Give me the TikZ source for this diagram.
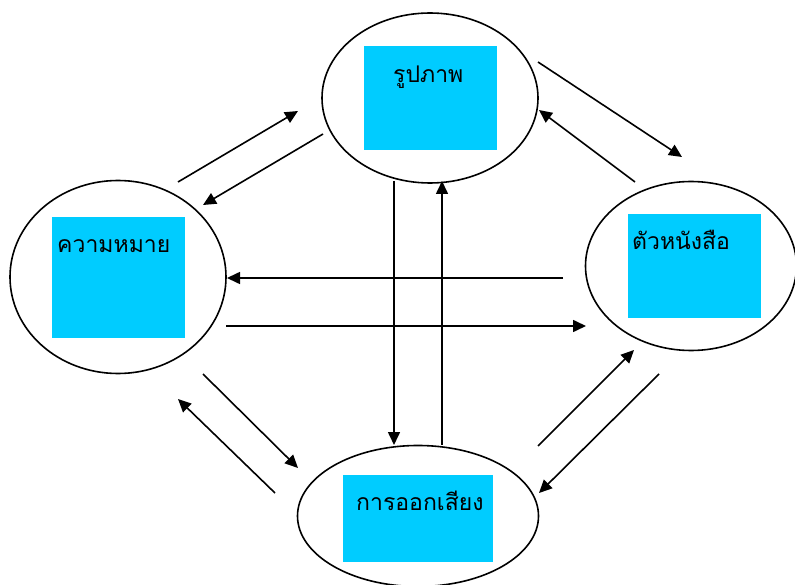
\documentclass[tikz,border=0pt]{standalone}
\usepackage{fontspec}
\usepackage{xcolor}
\usetikzlibrary{shapes.geometric,arrows.meta}
\newfontfamily\thaifont[Script=Thai]{Loma}
\definecolor{boxcyan}{RGB}{0,204,255}

\begin{document}
\begin{tikzpicture}[x=1pt,y=-1pt,
  bubble/.style={draw,line width=1.6pt,ellipse,inner sep=0pt},
  panel/.style={fill=boxcyan,inner sep=0pt},
  word/.style={anchor=base west,inner sep=0pt,font=\thaifont\fontsize{23}{27}\selectfont},
  link/.style={line width=1.6pt,-{Triangle[length=13pt,width=12pt]}}]
\useasboundingbox (0,0) rectangle (795,585);
% ellipses
\node[bubble,minimum width=216pt,minimum height=170pt] (pic) at (430,98) {};
\node[bubble,minimum width=216pt,minimum height=193pt] (mean) at (118,277) {};
\node[bubble,minimum width=211pt,minimum height=169pt] (char) at (691,266) {};
\node[bubble,minimum width=241pt,minimum height=141pt] (sound) at (418,516) {};
% cyan boxes
\node[panel,minimum width=133pt,minimum height=104pt] (picbox) at (430.5,98) {};
\node[panel,minimum width=133pt,minimum height=121pt] (meanbox) at (118.5,277.5) {};
\node[panel,minimum width=133pt,minimum height=104pt] (charbox) at (694.5,266) {};
\node[panel,minimum width=150pt,minimum height=87pt] (soundbox) at (418,518.5) {};
% labels
\node[word] (piclabel) at (393,83) {รูปภาพ};
\node[word] (meanlabel) at (57,253) {ความหมาย};
\node[word] (charlabel) at (632,250) {ตัวหนังสือ};
\node[word] (soundlabel) at (356,510) {การออกเสียง};
% arrow ends
\coordinate (a1) at (178,182); \coordinate (b1) at (298,111);
\coordinate (a2) at (323,134); \coordinate (b2) at (203,205);
\coordinate (a3) at (538,62);  \coordinate (b3) at (682,157);
\coordinate (a4) at (635,182); \coordinate (b4) at (539,110);
\coordinate (a5) at (563,278); \coordinate (b5) at (227,278);
\coordinate (a6) at (226,326); \coordinate (b6) at (586,326);
\coordinate (a7) at (394,181); \coordinate (b7) at (394,445);
\coordinate (a8) at (442,445); \coordinate (b8) at (442,181);
\coordinate (a9) at (203,374); \coordinate (b9) at (298,468);
\coordinate (a10) at (275,493); \coordinate (b10) at (178,399);
\coordinate (a11) at (538,446); \coordinate (b11) at (634,350);
\coordinate (a12) at (659,374); \coordinate (b12) at (539,493);
% arrows
\foreach \i in {1,...,12}
  \draw[link] (a\i) -- (b\i);
\end{tikzpicture}
\end{document}
